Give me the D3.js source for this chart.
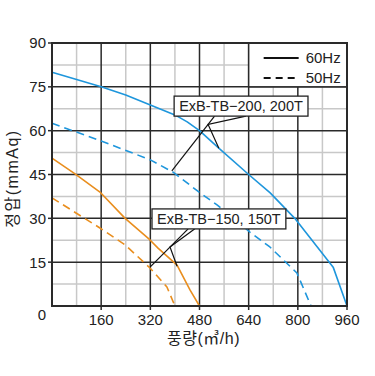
<!DOCTYPE html>
<html>
<head>
<meta charset="utf-8">
<script src="https://cdn.jsdelivr.net/npm/d3@7"></script>
<style>
  body { margin: 0; background: #fff; }
  text { font-family: "Liberation Sans", Arial, "Noto Sans CJK KR", sans-serif; }
</style>
</head>
<body>
<div id="chart"></div>
<script>
// axis ticks
const xTicks = [160, 320, 480, 640, 800, 960];
const yTicks = [15, 30, 45, 60, 75, 90];

// ExB-TB-200, 200T
const flow200_60 = [0, 160, 240, 320, 400, 440, 480, 540, 640, 710, 790, 915, 960];
const press200_60 = [80, 75, 72.2, 68.8, 65.4, 63, 60, 54.3, 45, 38.7, 30, 13.3, 0];
const flow200_50 = [0, 160, 320, 394, 482, 537, 644, 709, 797, 843];
const press200_50 = [62.5, 56.5, 50, 45.8, 38.7, 34.6, 25.3, 20.2, 11.3, 0];

// ExB-TB-150, 150T
const flow150_60 = [0, 75, 156, 238, 319, 345, 407, 449, 480];
const press150_60 = [50.6, 45.2, 39, 30, 22.6, 19.8, 14, 5.5, 0];
const flow150_50 = [0, 156, 238, 319, 374, 400];
const press150_50 = [37, 26.7, 20.9, 13, 6.5, 0];

// callouts: label, label centre, box anchor points, junction, targets (data units)
const callouts = [
  {label: "ExB-TB\u2212200, 200T", at: [615, 68.4],
   a1: [529, 65], a2: [631, 65], j: [508, 62.1], tDash: [390, 46.2], tSolid: [543, 54]},
  {label: "ExB-TB\u2212150, 150T", at: [543, 29.8],
   a1: [443, 26.4], a2: [465, 26.4], j: [384, 20.2], tDash: [319, 13.3], tSolid: [407, 13.6]}
];

const blue = "#1e96dc";
const orange = "#e98e1e";

const width = 375, height = 376;
const margin = {top: 43, right: 28, bottom: 70, left: 52};
const iw = width - margin.left - margin.right;
const ih = height - margin.top - margin.bottom;

const svg = d3.select("#chart").append("svg")
  .attr("width", width)
  .attr("height", height);

const g = svg.append("g")
  .attr("transform", `translate(${margin.left},${margin.top})`);

const x = d3.scaleLinear().domain([0, 960]).range([0, iw]);
const y = d3.scaleLinear().domain([0, 90]).range([ih, 0]);

// minor grid
const minorX = d3.range(80, 960, 160);
const minorY = d3.range(7.5, 90, 15);
g.append("g").selectAll("line").data(minorX).join("line")
  .attr("x1", d => x(d)).attr("x2", d => x(d))
  .attr("y1", 0).attr("y2", ih)
  .attr("stroke", "#c8c8c8").attr("stroke-width", 1.5);
g.append("g").selectAll("line").data(minorY).join("line")
  .attr("y1", d => y(d)).attr("y2", d => y(d))
  .attr("x1", 0).attr("x2", iw)
  .attr("stroke", "#c8c8c8").attr("stroke-width", 1.5);

// major grid
g.append("g").selectAll("line").data(xTicks).join("line")
  .attr("x1", d => x(d)).attr("x2", d => x(d))
  .attr("y1", 0).attr("y2", ih)
  .attr("stroke", "#2a2a2a").attr("stroke-width", 1.5);
g.append("g").selectAll("line").data(yTicks).join("line")
  .attr("y1", d => y(d)).attr("y2", d => y(d))
  .attr("x1", 0).attr("x2", iw)
  .attr("stroke", "#2a2a2a").attr("stroke-width", 1.5);

// legend box
g.append("rect")
  .attr("x", x(640)).attr("y", y(90))
  .attr("width", x(960) - x(640)).attr("height", y(75) - y(90))
  .attr("fill", "#fff").attr("stroke", "#2a2a2a").attr("stroke-width", 1.5);

const lg = g.append("g").attr("transform", `translate(${x(640)},${y(90)})`);
lg.append("line").attr("x1", 15).attr("x2", 50).attr("y1", 15).attr("y2", 15)
  .attr("stroke", "#111").attr("stroke-width", 2);
lg.append("line").attr("x1", 15).attr("x2", 50).attr("y1", 35).attr("y2", 35)
  .attr("stroke", "#111").attr("stroke-width", 2).attr("stroke-dasharray", "7,5");
lg.append("text").attr("x", 57).attr("y", 20).attr("font-size", 15).attr("fill", "#222").text("60Hz");
lg.append("text").attr("x", 57).attr("y", 40).attr("font-size", 15).attr("fill", "#222").text("50Hz");

// curves
const line = d3.line()
  .x(d => x(d[0]))
  .y(d => y(d[1]));

const series = [
  {f: flow200_60, p: press200_60, color: blue, dash: null},
  {f: flow200_50, p: press200_50, color: blue, dash: "8,5"},
  {f: flow150_60, p: press150_60, color: orange, dash: null},
  {f: flow150_50, p: press150_50, color: orange, dash: "8,5"}
];

g.append("g").selectAll("path").data(series).join("path")
  .attr("d", d => line(d3.zip(d.f, d.p)))
  .attr("fill", "none")
  .attr("stroke", d => d.color)
  .attr("stroke-width", 1.6)
  .attr("stroke-linejoin", "round")
  .attr("stroke-dasharray", d => d.dash);

// callouts
const pt = d => [x(d[0]), y(d[1])];
callouts.forEach(c => {
  const cg = g.append("g");
  cg.append("path")
    .attr("d", d3.line()([pt(c.a1), pt(c.tDash)]))
    .attr("stroke", "#111").attr("stroke-width", 1.2).attr("fill", "none");
  cg.append("path")
    .attr("d", d3.line()([pt(c.a2), pt(c.j), pt(c.tSolid)]))
    .attr("stroke", "#111").attr("stroke-width", 1.2).attr("fill", "none");
  const t = cg.append("text")
    .attr("x", x(c.at[0])).attr("y", y(c.at[1]))
    .attr("text-anchor", "middle").attr("dy", "0.36em")
    .attr("font-size", 14.5).attr("fill", "#222")
    .text(c.label);
  const bb = t.node().getBBox();
  cg.insert("rect", "text")
    .attr("x", bb.x - 5).attr("y", y(c.at[1]) - 10)
    .attr("width", bb.width + 10).attr("height", 20)
    .attr("fill", "#fff").attr("stroke", "#222").attr("stroke-width", 1.3);
});

// frame
g.append("rect")
  .attr("width", iw).attr("height", ih)
  .attr("fill", "none").attr("stroke", "#2a2a2a").attr("stroke-width", 2);

// ticks
g.append("g").selectAll("line").data(yTicks).join("line")
  .attr("x1", -4).attr("x2", 0).attr("y1", d => y(d)).attr("y2", d => y(d))
  .attr("stroke", "#2a2a2a").attr("stroke-width", 1.5);
g.append("g").selectAll("line").data(xTicks).join("line")
  .attr("y1", ih).attr("y2", ih + 4).attr("x1", d => x(d)).attr("x2", d => x(d))
  .attr("stroke", "#2a2a2a").attr("stroke-width", 1.5);

g.append("g").selectAll("text").data(yTicks).join("text")
  .attr("x", -6).attr("y", d => y(d)).attr("dy", "0.36em")
  .attr("text-anchor", "end").attr("font-size", 15).attr("fill", "#222")
  .text(d => d);
g.append("g").selectAll("text").data(xTicks).join("text")
  .attr("x", d => x(d)).attr("y", ih + 19)
  .attr("text-anchor", "middle").attr("font-size", 15).attr("fill", "#222")
  .text(d => d);
g.append("text")
  .attr("x", -6).attr("y", ih + 9).attr("dy", "0.36em")
  .attr("text-anchor", "end").attr("font-size", 15).attr("fill", "#222")
  .text("0");

// axis titles
g.append("text")
  .attr("x", iw / 2 + 4).attr("y", ih + 38)
  .attr("text-anchor", "middle").attr("font-size", 16).attr("letter-spacing", 0.5)
  .attr("fill", "#222")
  .text("풍량(㎥/h)");
g.append("text")
  .attr("transform", `translate(${-34},${ih / 2 + 4}) rotate(-90)`)
  .attr("text-anchor", "middle").attr("font-size", 16).attr("letter-spacing", 1.5)
  .attr("fill", "#222")
  .text("정압(mmAq)");
</script>
</body>
</html>
